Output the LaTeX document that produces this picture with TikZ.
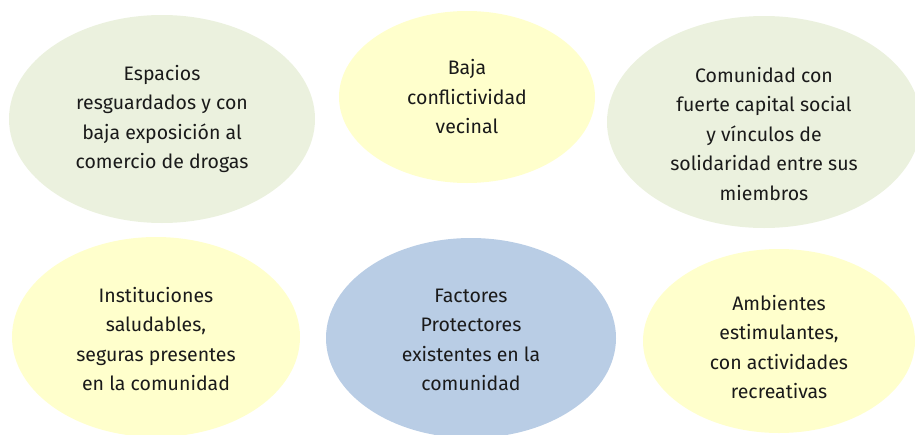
\documentclass[tikz,border=0pt]{standalone}
\usepackage{fontspec}
\setmainfont{Fira Sans}
\usetikzlibrary{shapes.geometric}

\definecolor{oliveback}{HTML}{EBF1DE}
\definecolor{yellowback}{HTML}{FFFFCC}
\definecolor{blueback}{HTML}{B9CDE5}
\definecolor{textdark}{HTML}{1A1A1A}

\begin{document}
\begin{tikzpicture}[x=1pt,y=-1pt]
    \useasboundingbox (0,0) rectangle (915,434);

    % the six ellipses
    \begin{scope}[every node/.style={ellipse,draw=none,inner sep=0pt}]
        \node[fill=oliveback,minimum width=306pt,minimum height=208pt]  (espacios)      at (162,119) {};
        \node[fill=yellowback,minimum width=256pt,minimum height=172pt] (baja)          at (467,97)  {};
        \node[fill=oliveback,minimum width=314pt,minimum height=212pt]  (comunidad)     at (764,122) {};
        \node[fill=yellowback,minimum width=288pt,minimum height=200pt] (instituciones) at (156,337) {};
        \node[fill=blueback,minimum width=290pt,minimum height=200pt]   (factores)      at (471,338) {};
        \node[fill=yellowback,minimum width=272pt,minimum height=184pt] (ambientes)     at (779,341) {};
    \end{scope}

    % texts
    \begin{scope}[every node/.style={align=center,text=textdark,
            font=\fontsize{19.5}{29.5}\selectfont}]
        \node (t-espacios) at (espacios.center) {Espacios\\resguardados y con\\baja exposición al\\comercio de drogas};
        \node (t-baja) at (baja.center) {Baja\\conflictividad\\vecinal};
        \node (t-comunidad) at ([yshift=-12pt]comunidad.center) {Comunidad con\\fuerte capital social\\y vínculos de\\solidaridad entre sus\\miembros};
        \node (t-instituciones) at ([yshift=-2pt]instituciones.center) {Instituciones\\saludables,\\seguras presentes\\en la comunidad};
        \node (t-factores) at ([yshift=-2pt]factores.center) {Factores\\Protectores\\existentes en la\\comunidad};
        \node (t-ambientes) at ([yshift=-6pt]ambientes.center) {Ambientes\\estimulantes,\\con actividades\\recreativas};
    \end{scope}
\end{tikzpicture}
\end{document}
